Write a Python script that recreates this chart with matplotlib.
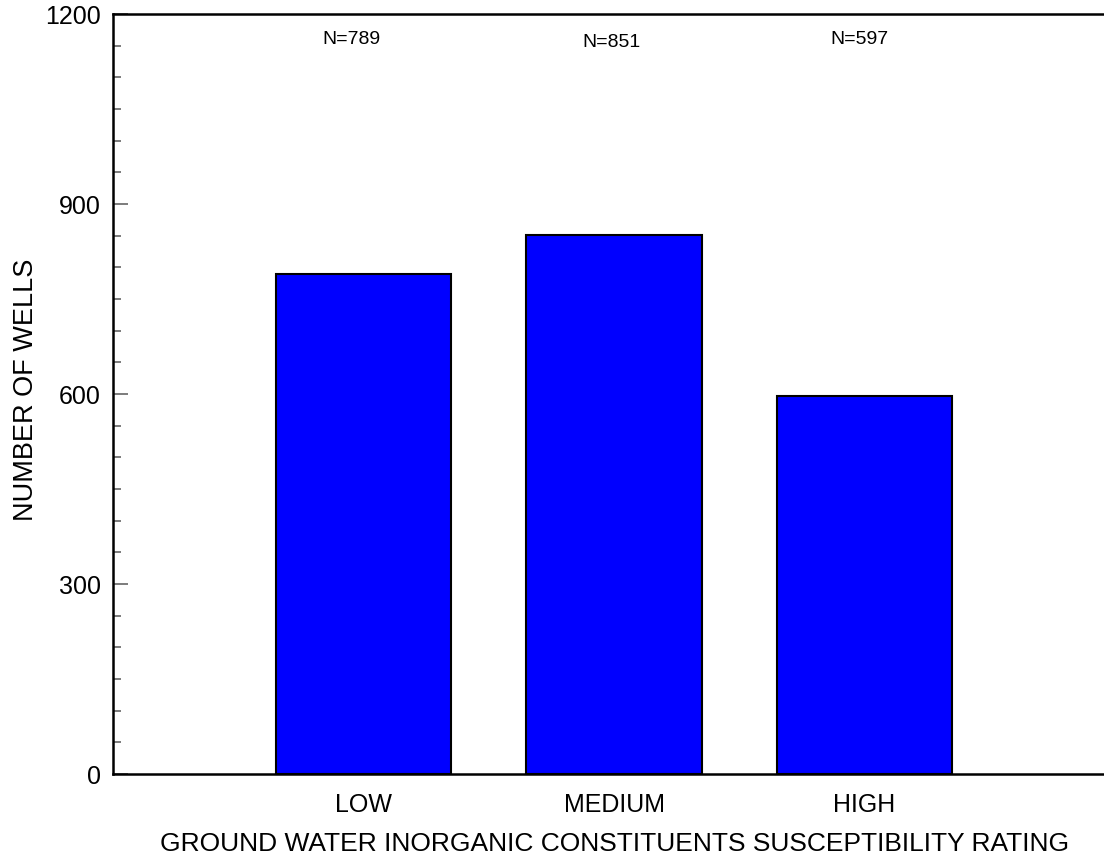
import matplotlib
matplotlib.use("Agg")
import matplotlib.pyplot as plt
from matplotlib.ticker import MultipleLocator

# data
categories = ["LOW", "MEDIUM", "HIGH"]
wells = [789, 851, 597]
n_labels = ["N=789", "N=851", "N=597"]

plt.rcParams["font.family"] = ["Liberation Sans", "DejaVu Sans"]

fig = plt.figure(figsize=(11.04, 8.54), dpi=100)
ax = fig.add_axes([113 / 1104, 1 - 775 / 854, 1 - 113 / 1104, (775 - 15) / 854])

xpos = [1, 2, 3]
ax.bar(xpos, wells, width=0.7, color="#0000ff", edgecolor="black", linewidth=1.5)

# N labels sit near the top of the plot, slightly offset from bar centres
label_x = [0.95, 1.99, 2.98]
label_y = [1162, 1157, 1162]
for x, y, t in zip(label_x, label_y, n_labels):
    ax.text(x, y, t, ha="center", va="center", fontsize=14)

ax.set_xlim(0, (1104 - 113) / 250.5)
ax.set_ylim(0, 1200)
ax.set_xticks(xpos)
ax.set_xticklabels(categories, fontsize=18)
ax.yaxis.set_major_locator(MultipleLocator(300))
ax.yaxis.set_minor_locator(MultipleLocator(50))
ax.tick_params(axis="y", which="major", direction="in", length=11, width=1.2,
               color="#666666", labelsize=18, pad=9)
ax.tick_params(axis="y", which="minor", direction="in", length=6, width=1.2,
               color="#666666")
ax.tick_params(axis="x", length=0, pad=13)

ax.spines["right"].set_visible(False)
for s in ["left", "top", "bottom"]:
    ax.spines[s].set_linewidth(1.8)

ax.set_ylabel("NUMBER OF WELLS", fontsize=19.5, va="center")
ax.yaxis.set_label_coords(-0.088, 0.507)
ax.set_xlabel("GROUND WATER INORGANIC CONSTITUENTS SUSCEPTIBILITY RATING",
              fontsize=19, va="baseline")
ax.xaxis.set_label_coords(0.5066, -0.100)

fig.savefig("out.png", dpi=100)
